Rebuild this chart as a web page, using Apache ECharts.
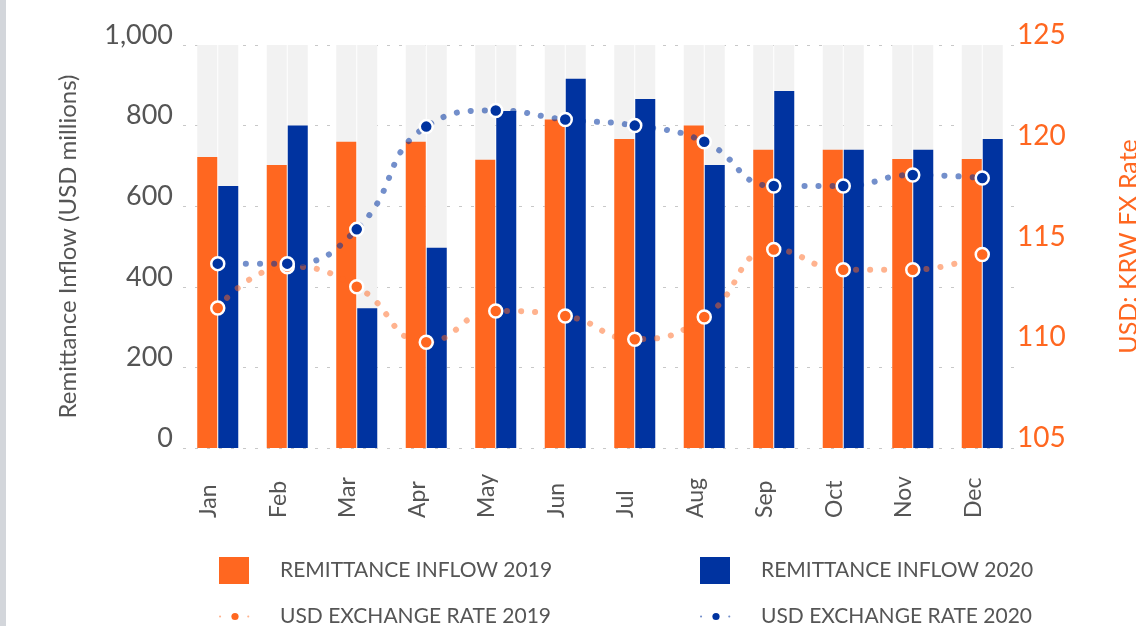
<!DOCTYPE html>
<html>
<head>
<meta charset="utf-8">
<script src="https://cdn.jsdelivr.net/npm/echarts@6.0.0/dist/echarts.min.js"></script>
<style>
  html, body { margin: 0; padding: 0; background: #fff; }
  #chart { width: 1136px; height: 626px; }
</style>
</head>
<body>
<div id="chart"></div>
<script>
const months = ['Jan', 'Feb', 'Mar', 'Apr', 'May', 'Jun', 'Jul', 'Aug', 'Sep', 'Oct', 'Nov', 'Dec']
const inflow2019 = [722, 702, 760, 760, 715, 815, 767, 800, 740, 740, 717, 717]
const inflow2020 = [650, 800, 347, 497, 836, 916, 866, 702, 886, 740, 740, 767]
const rate2019 = [111.95, 114.0, 113.0, 110.25, 111.8, 111.55, 110.4, 111.5, 114.85, 113.85, 113.85, 114.6]
const rate2020 = [114.15, 114.15, 115.85, 120.95, 121.75, 121.3, 121.0, 120.2, 118.0, 118.0, 118.55, 118.4]

const orange = '#ff6720'
const blue = '#0033a0'
const grey = '#555555'
const font = 'Lato'

const chart = echarts.init(document.getElementById('chart'))

function legendBox(name, left, top, isLine) {
  return {
    data: [name],
    left: left,
    top: top,
    padding: 0,
    icon: isLine ? undefined : 'rect',
    itemWidth: 30,
    itemHeight: isLine ? 9 : 27,
    selectedMode: false,
    itemStyle: { borderWidth: 0 },
    textStyle: {
      fontFamily: font,
      fontSize: 21,
      color: grey,
      padding: [0, 0, 0, isLine ? 25 : 26]
    }
  }
}

chart.setOption({
  backgroundColor: '#fff',
  animation: false,
  graphic: [
    { type: 'rect', left: 0, top: 0, shape: { width: 6, height: 626 }, style: { fill: '#d3d6db' } }
  ],
  legend: [
    legendBox('REMITTANCE INFLOW 2019', 219, 557, false),
    legendBox('REMITTANCE INFLOW 2020', 700, 557, false),
    legendBox('USD EXCHANGE RATE 2019', 219, 606, true),
    legendBox('USD EXCHANGE RATE 2020', 700, 606, true)
  ],
  grid: { left: 183, right: 119, top: 45, bottom: 178, outerBoundsMode: 'none', containLabel: false },
  xAxis: {
    type: 'category',
    data: months,
    axisLine: { show: false },
    axisTick: { show: false },
    axisLabel: {
      interval: 0,
      rotate: 90,
      align: 'left',
      verticalAlign: 'bottom',
      lineHeight: 18,
      margin: 70,
      fontFamily: font,
      fontSize: 23,
      color: grey
    }
  },
  yAxis: [
    {
      type: 'value',
      min: 0,
      max: 1000,
      interval: 200,
      name: 'Remittance Inflow (USD millions)',
      nameLocation: 'middle',
      nameRotate: 90,
      nameGap: 103,
      nameTextStyle: { fontFamily: font, fontSize: 24, color: grey },
      axisLine: { show: false },
      axisTick: { show: false },
      axisLabel: {
        margin: 10,
        fontFamily: font,
        fontSize: 27,
        color: grey,
        verticalAlign: 'bottom',
        lineHeight: 20
      },
      splitLine: { lineStyle: { color: '#c8c8c8', width: 1, type: [3, 9] } }
    },
    {
      type: 'value',
      min: 105,
      max: 125,
      interval: 5,
      position: 'right',
      name: 'USD: KRW FX Rate',
      nameLocation: 'middle',
      nameRotate: 90,
      nameGap: 99,
      nameTextStyle: { fontFamily: font, fontSize: 25, color: orange },
      axisLine: { show: false },
      axisTick: { show: false },
      axisLabel: {
        margin: 0,
        fontFamily: font,
        fontSize: 28,
        color: orange,
        verticalAlign: 'bottom',
        lineHeight: 20
      },
      splitLine: { show: false }
    }
  ],
  series: [
    {
      name: 'REMITTANCE INFLOW 2019',
      type: 'bar',
      data: inflow2019,
      barWidth: 20,
      barGap: '5%',
      itemStyle: { color: orange },
      showBackground: true,
      backgroundStyle: { color: '#f2f2f2' }
    },
    {
      name: 'REMITTANCE INFLOW 2020',
      type: 'bar',
      data: inflow2020,
      barWidth: 20,
      barGap: '5%',
      itemStyle: { color: blue },
      showBackground: true,
      backgroundStyle: { color: '#f2f2f2' }
    },
    {
      name: 'USD EXCHANGE RATE 2019',
      type: 'line',
      yAxisIndex: 1,
      data: rate2019,
      smooth: true,
      symbol: 'circle',
      symbolSize: 13,
      itemStyle: { color: orange, borderColor: '#fff', borderWidth: 2.5 },
      lineStyle: { color: 'rgba(255,103,32,0.5)', width: 6, type: [0.1, 14], cap: 'round' }
    },
    {
      name: 'USD EXCHANGE RATE 2020',
      type: 'line',
      yAxisIndex: 1,
      data: rate2020,
      smooth: true,
      symbol: 'circle',
      symbolSize: 13,
      itemStyle: { color: blue, borderColor: '#fff', borderWidth: 2.5 },
      lineStyle: { color: 'rgba(0,51,160,0.55)', width: 6, type: [0.1, 14], cap: 'round' }
    }
  ]
})
</script>
</body>
</html>
